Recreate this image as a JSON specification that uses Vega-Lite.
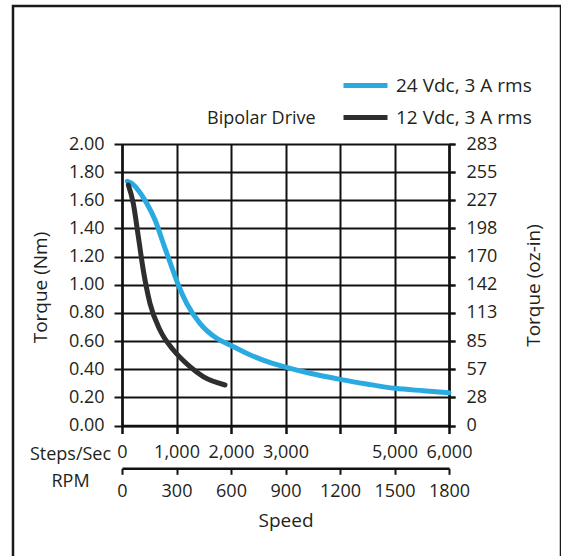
{
  "$schema": "https://vega.github.io/schema/vega-lite/v6.json",
  "width": 548,
  "height": 557.5,
  "autosize": {"type": "none"},
  "padding": {"left": 13, "top": 6, "right": 0, "bottom": 0},
  "background": "white",
  "config": {
    "font": "Open Sans",
    "view": {"stroke": "#1a1a1a", "strokeWidth": 2.5},
    "axis": {
      "domainColor": "#111111",
      "domainWidth": 2.5,
      "tickColor": "#111111",
      "tickWidth": 2,
      "labelColor": "#231f20",
      "labelFontSize": 18,
      "labelFont": "Open Sans",
      "titleFont": "Open Sans",
      "titleColor": "#231f20",
      "titleFontWeight": "normal",
      "titleFontSize": 19,
      "grid": false,
      "labelOverlap": false,
      "labelFlush": false,
      "labelBound": false
    }
  },
  "data": {
    "values": [
      {"series": "24 Vdc, 3 A rms", "rpm": 29, "nm": 1.735},
      {"series": "24 Vdc, 3 A rms", "rpm": 55, "nm": 1.72},
      {"series": "24 Vdc, 3 A rms", "rpm": 81, "nm": 1.685},
      {"series": "24 Vdc, 3 A rms", "rpm": 136, "nm": 1.579},
      {"series": "24 Vdc, 3 A rms", "rpm": 182, "nm": 1.46},
      {"series": "24 Vdc, 3 A rms", "rpm": 227, "nm": 1.295},
      {"series": "24 Vdc, 3 A rms", "rpm": 273, "nm": 1.128},
      {"series": "24 Vdc, 3 A rms", "rpm": 310, "nm": 0.998},
      {"series": "24 Vdc, 3 A rms", "rpm": 356, "nm": 0.868},
      {"series": "24 Vdc, 3 A rms", "rpm": 429, "nm": 0.726},
      {"series": "24 Vdc, 3 A rms", "rpm": 521, "nm": 0.62},
      {"series": "24 Vdc, 3 A rms", "rpm": 595, "nm": 0.572},
      {"series": "24 Vdc, 3 A rms", "rpm": 686, "nm": 0.513},
      {"series": "24 Vdc, 3 A rms", "rpm": 796, "nm": 0.455},
      {"series": "24 Vdc, 3 A rms", "rpm": 900, "nm": 0.415},
      {"series": "24 Vdc, 3 A rms", "rpm": 1035, "nm": 0.371},
      {"series": "24 Vdc, 3 A rms", "rpm": 1200, "nm": 0.328},
      {"series": "24 Vdc, 3 A rms", "rpm": 1347, "nm": 0.295},
      {"series": "24 Vdc, 3 A rms", "rpm": 1503, "nm": 0.264},
      {"series": "24 Vdc, 3 A rms", "rpm": 1658, "nm": 0.247},
      {"series": "24 Vdc, 3 A rms", "rpm": 1800, "nm": 0.233},
      {"series": "12 Vdc, 3 A rms", "rpm": 35, "nm": 1.709},
      {"series": "12 Vdc, 3 A rms", "rpm": 62, "nm": 1.579},
      {"series": "12 Vdc, 3 A rms", "rpm": 90, "nm": 1.341},
      {"series": "12 Vdc, 3 A rms", "rpm": 117, "nm": 1.105},
      {"series": "12 Vdc, 3 A rms", "rpm": 154, "nm": 0.868},
      {"series": "12 Vdc, 3 A rms", "rpm": 209, "nm": 0.678},
      {"series": "12 Vdc, 3 A rms", "rpm": 283, "nm": 0.536},
      {"series": "12 Vdc, 3 A rms", "rpm": 374, "nm": 0.418},
      {"series": "12 Vdc, 3 A rms", "rpm": 447, "nm": 0.347},
      {"series": "12 Vdc, 3 A rms", "rpm": 567, "nm": 0.288}
    ]
  },
  "resolve": {"axis": {"x": "independent", "y": "independent"}},
  "layer": [
    {
      "mark": {"type": "point", "opacity": 0},
      "encoding": {
        "x": {
          "field": "rpm",
          "type": "quantitative",
          "scale": {"domain": [0, 1800], "range": [109, 436], "nice": false, "zero": false},
          "axis": {
            "orient": "top",
            "offset": -138,
            "values": [0, 300, 600, 900, 1200, 1500, 1800],
            "tickSize": -289.5,
            "labels": false,
            "domain": false,
            "title": null
          }
        },
        "y": {
          "field": "nm",
          "type": "quantitative",
          "scale": {"domain": [0, 2], "range": [419.5, 138], "nice": false, "zero": false},
          "axis": {
            "orient": "left",
            "offset": -109,
            "values": [0, 0.2, 0.4, 0.6, 0.8, 1, 1.2, 1.4, 1.6, 1.8, 2],
            "tickSize": -333,
            "labels": false,
            "domain": false,
            "title": null
          }
        }
      }
    },
    {
      "mark": {"type": "line", "strokeWidth": 5, "strokeCap": "round", "interpolate": "monotone"},
      "encoding": {
        "x": {
          "field": "rpm",
          "type": "quantitative",
          "axis": {
            "orient": "bottom",
            "offset": -138,
            "values": [0, 300, 600, 900, 1200, 1500, 1800],
            "labelExpr": "datum.value == 1200 ? '' : format(datum.value * 10 / 3, ',')",
            "tickSize": 8,
            "labelPadding": 10,
            "title": ["Steps/Sec", "RPM"],
            "titleX": 57,
            "titleY": 20,
            "titleAlign": "center",
            "titleBaseline": "top",
            "titleAngle": 0,
            "titleFontSize": 18,
            "titleLineHeight": 27
          }
        },
        "y": {
          "field": "nm",
          "type": "quantitative",
          "axis": {
            "orient": "left",
            "offset": -109,
            "values": [0, 0.2, 0.4, 0.6, 0.8, 1, 1.2, 1.4, 1.6, 1.8, 2],
            "format": ".2f",
            "tickSize": 8,
            "labelPadding": 10,
            "title": "Torque (Nm)",
            "titleAngle": 270,
            "titleX": -82,
            "titleY": 281,
            "titleAlign": "center",
            "titleBaseline": "middle"
          }
        },
        "color": {
          "field": "series",
          "type": "nominal",
          "scale": {"domain": ["24 Vdc, 3 A rms", "12 Vdc, 3 A rms"], "range": ["#29abe2", "#2e2e2e"]},
          "legend": {
            "orient": "none",
            "legendX": 194,
            "legendY": 66,
            "title": "Bipolar Drive",
            "titleOrient": "left",
            "titleAnchor": "end",
            "titleFontSize": 18,
            "titleFontWeight": "normal",
            "titleColor": "#231f20",
            "titlePadding": 36,
            "labelFontSize": 19,
            "labelColor": "#231f20",
            "symbolType": "M-2,0H2",
            "symbolSize": 484,
            "symbolStrokeWidth": 5,
            "rowPadding": 8,
            "labelOffset": 17,
            "padding": 0
          }
        }
      }
    },
    {
      "mark": {"type": "point", "opacity": 0},
      "encoding": {
        "x": {
          "field": "rpm",
          "type": "quantitative",
          "axis": {
            "orient": "bottom",
            "offset": -95.2,
            "values": [0, 300, 600, 900, 1200, 1500, 1800],
            "format": "d",
            "tickSize": 6,
            "labelPadding": 8,
            "title": "Speed",
            "titleY": 43,
            "titleBaseline": "top",
            "titleFontSize": 19
          }
        },
        "y": {
          "field": "nm",
          "type": "quantitative",
          "axis": {
            "orient": "right",
            "offset": -112,
            "values": [0, 0.2, 0.4, 0.6, 0.8, 1, 1.2, 1.4, 1.6, 1.8, 2],
            "labelExpr": "format(datum.value * 141.6, '.0f')",
            "tickSize": 6,
            "labelPadding": 11,
            "title": "Torque (oz-in)",
            "titleAngle": 270,
            "titleX": 84,
            "titleY": 279,
            "titleAlign": "center",
            "titleBaseline": "middle"
          }
        }
      }
    }
  ]
}
